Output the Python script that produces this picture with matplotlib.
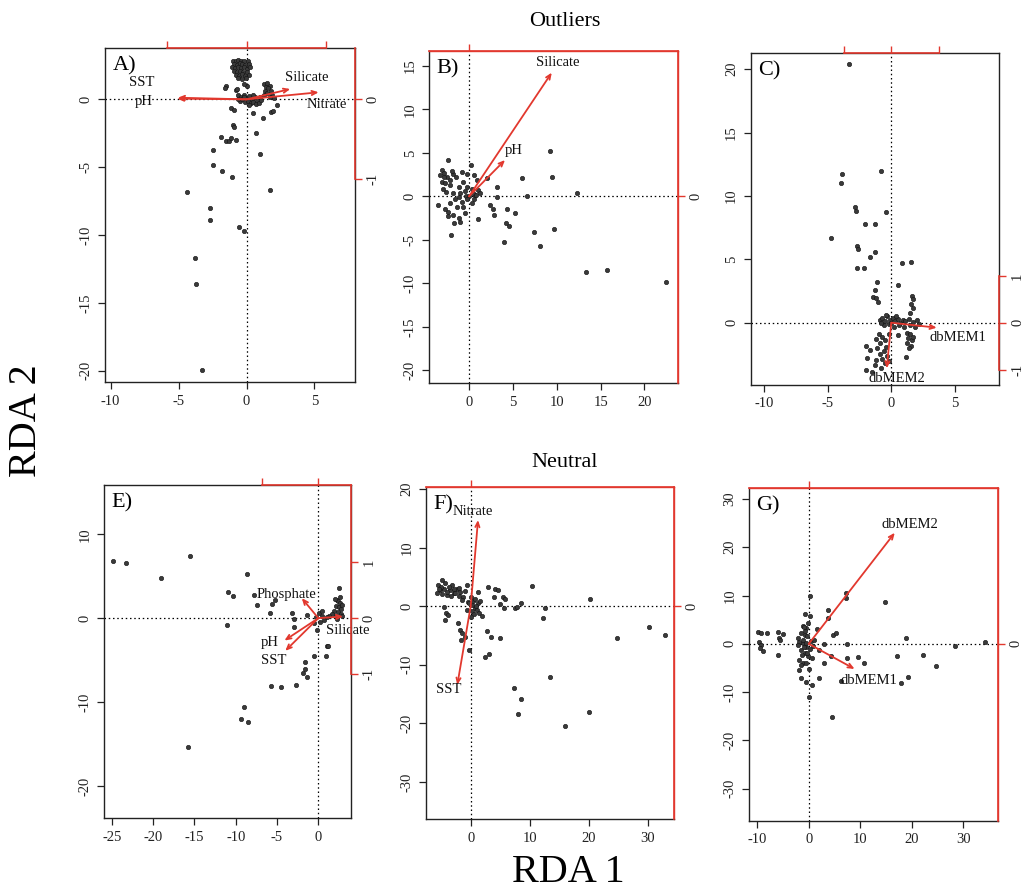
import matplotlib.pyplot as plt

plt.rcParams['font.family'] = ['Liberation Serif', 'DejaVu Serif']

RED = '#e2382e'

# ---- site scores (RDA1, RDA2) ----
a_sites = [
    (-1.0, 2.8), (-0.8, 2.85), (-0.6, 2.9), (-0.4, 2.8), (-0.2, 2.85), (0.1, 2.8), (-0.9, 2.6),
    (-0.7, 2.55), (-0.5, 2.65), (-0.3, 2.6), (-0.1, 2.5), (0.2, 2.6), (-1.05, 2.35), (-0.85, 2.3),
    (-0.6, 2.4), (-0.4, 2.3), (-0.2, 2.35), (0.0, 2.25), (0.25, 2.35), (-0.95, 2.1), (-0.7, 2.0),
    (-0.5, 2.1), (-0.25, 2.05), (0.05, 2.0), (-0.8, 1.8), (-0.55, 1.75), (-0.3, 1.85), (-0.1, 1.7),
    (0.15, 1.8), (-0.6, 1.55), (-0.35, 1.5), (-0.05, 1.55),
    (-1.5, 0.95), (-1.6, 0.85), (-0.8, 0.7), (-0.7, 0.78), (0.0, 0.95), (-0.2, 1.15),
    (1.3, 1.15), (1.5, 1.2), (1.7, 1.0), (1.4, 0.9), (1.6, 0.8), (1.35, 0.6), (1.8, 0.6),
    (1.5, 0.45), (1.9, 0.3), (1.3, 0.3), (1.7, 0.2), (2.0, 0.1),
    (-0.6, 0.3), (-0.4, 0.2), (-0.2, 0.35), (0.0, 0.1), (0.2, 0.25), (0.4, 0.0), (0.6, 0.2),
    (0.8, -0.1), (1.0, 0.15), (-0.5, -0.1), (-0.3, 0.0), (-0.1, -0.2), (0.1, -0.1), (0.3, -0.3),
    (0.5, -0.2), (0.7, -0.35), (-0.6, 0.05), (0.9, -0.25), (1.1, -0.05), (0.2, -0.4), (-0.2, 0.15),
    (0.45, 0.35),
    (-1.15, -0.66), (-0.9, -0.8), (0.44, -1.03), (1.24, -1.4), (1.78, -0.9), (1.95, -0.85),
    (2.27, -0.4), (-1.0, -1.9), (-0.9, -2.06), (0.73, -2.46), (-1.88, -2.75), (-1.5, -3.07),
    (-1.3, -3.07), (-1.15, -2.87), (-0.78, -3.0), (-2.46, -3.73), (0.98, -4.03), (-2.46, -4.84),
    (-1.83, -5.26), (-1.07, -5.7), (-4.39, -6.8), (1.73, -6.66), (-2.66, -8.03), (-2.71, -8.9),
    (-0.56, -9.39), (-0.2, -9.73), (-3.8, -11.72), (-3.7, -13.6), (-3.29, -19.95),
]

b_sites = [
    (-2.36, 4.18), (-3.1, 3.0), (-2.9, 2.7), (-2.55, 2.26), (-2.2, 1.9), (-3.1, 1.7), (-2.7, 1.5),
    (-1.8, 2.6), (-0.84, 2.8), (-0.27, 2.6), (0.2, 3.6), (0.57, 2.45), (0.87, 1.9), (-1.2, 1.1),
    (-0.65, 1.7), (-0.27, 1.1), (0.3, 0.9), (-1.8, 0.35), (-1.2, -0.04), (-0.4, 0.0),
    (-0.84, -0.6), (-2.2, -0.8), (-1.4, -1.2), (-2.36, -1.8), (-1.8, -2.15), (-1.2, -2.5),
    (-1.0, -2.9), (-0.46, -1.95), (-3.5, -1.0), (-2.05, -4.45), (1.06, -2.65), (1.06, 0.7),
    (0.68, 0.15), (1.25, 0.35),
    (-2.9, 2.2), (-3.3, 2.5), (-2.0, 2.9), (-1.5, 2.2), (-2.6, 0.5), (-3.0, 0.9), (-1.0, 0.4),
    (-0.5, 0.6), (0.0, 0.0), (0.4, 0.4), (0.6, -0.3), (-0.2, -0.3), (-1.6, -0.3), (-2.7, -1.4),
    (-2.4, -2.3), (-1.7, -3.1), (0.3, -0.8), (0.8, 0.1), (-0.7, -1.2), (-2.2, 1.3),
    (2.1, 2.07), (3.2, 1.1), (3.15, -0.04), (2.4, -1.0), (2.7, -1.4), (2.85, -2.15), (4.3, -1.4),
    (4.2, -3.1), (4.56, -3.4), (4.0, -5.3), (5.25, -1.96), (6.0, 2.07), (6.6, 0.0), (7.45, -4.07),
    (8.1, -5.7), (9.24, 5.26), (9.43, 2.26), (9.7, -3.8), (12.3, 0.35), (13.35, -8.75),
    (15.74, -8.48), (22.5, -9.9),
]

c_sites = [
    (-3.35, 20.4), (-3.87, 11.7), (-3.93, 11.05), (-0.79, 11.97), (-2.88, 9.1), (-2.75, 8.8),
    (-0.45, 8.76), (-2.1, 7.8), (-1.26, 7.8), (-4.7, 6.7), (-2.7, 6.05), (-2.6, 5.85),
    (-1.26, 5.55), (-1.7, 5.16), (-2.7, 4.34), (-2.12, 4.34), (0.86, 4.74), (1.57, 4.82),
    (-1.1, 3.18), (-1.3, 2.58), (-1.44, 2.05), (-1.18, 1.92), (-1.05, 1.66), (0.52, 2.97),
    (1.65, 2.1), (1.7, 1.84), (1.55, 1.5), (1.7, 1.13), (1.5, 0.74),
    (-0.9, 0.2), (-0.7, 0.4), (-0.5, 0.1), (-0.3, 0.5), (-0.1, 0.2), (0.1, 0.4), (0.3, 0.1),
    (0.5, 0.3), (0.7, 0.0), (0.9, 0.25), (1.1, 0.1), (1.4, 0.3), (1.7, 0.05), (2.0, 0.2),
    (2.2, -0.1), (-0.6, -0.2), (-0.2, -0.1), (0.2, -0.3), (0.6, -0.2), (1.0, -0.35), (1.5, -0.2),
    (1.9, -0.3), (-0.4, 0.6), (0.0, 0.0), (0.4, 0.55), (-0.8, -0.05),
    (-1.0, -0.9), (-1.2, -1.3), (-0.7, -1.1), (-0.9, -1.6), (-0.5, -1.4), (-1.1, -2.0),
    (-0.6, -2.2), (-0.9, -2.5), (-0.3, -2.6), (-0.7, -2.9), (-1.18, -2.95), (-1.3, -3.34),
    (-0.5, -3.2), (-0.8, -3.6), (-0.2, -3.0), (-1.96, -1.84), (-1.7, -2.16), (-1.88, -2.8),
    (-2.0, -3.74), (-1.5, -3.9), (-0.4, -1.9), (-0.2, -0.9),
    (1.2, -0.8), (1.5, -0.9), (1.35, -1.2), (1.6, -1.4), (1.25, -1.6), (1.55, -1.8), (1.4, -2.0),
    (1.7, -1.1), (1.18, -2.68), (0.52, -0.97),
]

e_sites = [
    (-24.8, 6.83), (-23.3, 6.59), (-15.5, 7.46), (-19.07, 4.76), (-8.6, 5.3), (-10.97, 3.1),
    (-10.28, 2.62), (-7.78, 2.7), (-7.46, 1.59), (-11.1, -0.79), (-5.65, 1.63), (-5.85, 0.6),
    (-5.24, 2.18), (-3.15, 0.67), (-2.94, -0.16), (-2.94, -1.07), (-1.41, 0.4), (-0.2, -1.47),
    (-0.48, -4.56), (-1.61, -5.28), (-1.61, -6.07), (-1.81, -6.55), (-1.41, -7.02), (1.0, -3.37),
    (1.2, -3.3), (0.93, -4.48), (-5.77, -8.13), (-4.56, -8.25), (-2.74, -8.0), (-8.95, -10.63),
    (-9.4, -12.06), (-8.5, -12.38), (-15.8, -15.4),
    (2.54, 3.57), (2.22, 2.18), (2.4, 2.0), (2.6, 1.8), (2.1, 1.5), (2.5, 1.3), (2.8, 1.1),
    (1.9, 0.9), (2.4, 0.7), (2.7, 0.5), (2.0, 0.3), (2.9, 0.2), (1.6, 0.5), (2.3, -0.1),
    (1.3, 0.2), (2.6, 2.5), (2.0, 2.3), (2.85, 1.6),
    (0.1, 0.6), (0.4, 0.3), (-0.3, 0.1), (0.7, -0.2), (0.2, -0.4), (-0.5, -0.6), (1.0, 0.1),
    (0.5, 0.8),
]

f_sites = [
    (-4.9, 4.4), (-5.5, 3.6), (-5.2, 2.7), (-5.76, 2.16), (-4.6, 3.0), (-3.2, 3.6), (-3.5, 2.7),
    (-2.9, 2.16), (-2.4, 3.0), (-1.8, 2.45), (-1.24, 1.6), (-0.68, 3.6), (-1.5, 1.0),
    (-4.07, 1.9), (-0.4, 0.74),
    (-4.4, 3.9), (-5.0, 3.2), (-4.0, 2.4), (-3.7, 3.3), (-2.9, 3.0), (-2.6, 2.2), (-2.0, 1.8),
    (-1.0, 2.6), (-1.9, 3.1), (-3.3, 1.8), (-4.8, 2.0), (-5.3, 3.0),
    (-4.6, -0.1), (-4.2, -1.25), (-4.35, -2.4), (-3.8, -1.5), (-2.1, -2.96), (-1.8, -4.0),
    (-1.5, -4.55), (-1.6, -5.8), (-0.96, -5.2), (-0.23, -7.5), (-0.68, -0.68),
    (0.1, 1.5), (0.4, 0.9), (0.8, 1.2), (1.2, 0.5), (0.3, 0.2), (0.7, -0.3), (1.1, -0.6),
    (0.2, -0.9), (0.6, -1.4), (1.4, -1.2), (0.0, -1.8), (1.5, 0.9), (-0.3, 0.5), (0.9, 0.0),
    (1.3, 2.45), (3.0, 3.2), (4.1, 2.85), (4.7, 2.7), (4.0, 1.6), (4.97, 0.28), (5.5, 1.6),
    (5.8, 1.3), (5.65, -0.28), (2.0, -1.65), (2.77, -4.27), (3.4, -5.24), (4.97, -5.4),
    (2.43, -8.65), (3.16, -8.2), (7.5, -0.28), (7.9, -0.1), (8.5, 0.46), (10.34, 3.4),
    (12.2, -2.1), (12.66, -0.4), (13.45, -12.07), (7.34, -13.9), (8.6, -15.9), (8.1, -18.4),
    (15.9, -20.4), (20.0, -18.1), (20.3, 1.14), (24.75, -5.5), (30.2, -3.5), (32.9, -4.95),
]

g_sites = [
    (-9.8, 2.55), (-9.2, 2.2), (-9.6, 0.48), (-9.36, -0.2), (-8.97, -1.58), (-9.5, -0.9),
    (-8.1, 2.34), (-5.96, 2.55), (-5.77, 1.17), (-5.5, 0.83), (-5.1, 2.0), (-5.96, -2.4),
    (0.26, 10.0), (-0.7, 6.2), (0.3, 5.8), (-0.2, 4.27), (-1.15, 3.6), (-0.5, 3.2), (-1.5, 2.2),
    (-0.8, 1.9), (-2.1, 1.17), (-1.8, 0.48), (-1.1, 0.1), (-0.5, -0.6), (-1.5, -1.24),
    (-0.8, -1.9), (-0.2, -2.6), (-1.9, -3.3), (-1.2, -4.0), (-1.8, -5.4), (-1.5, -7.1),
    (-0.5, -7.8), (0.58, -8.6), (0.13, -10.9),
    (-0.8, 2.7), (-0.3, 1.6), (-1.2, 0.9), (-0.5, 0.2), (0.4, 0.5), (-1.0, -0.6), (-0.3, -1.8),
    (0.2, -1.0), (-1.3, -2.3), (-0.6, -3.9), (0.6, -3.0), (-1.6, -4.3), (1.0, 0.9), (0.8, -0.4),
    (-2.0, -0.2), (-0.9, 3.4), (0.0, -5.2),
    (3.65, 7.03), (3.65, 5.3), (4.74, 1.86), (5.25, 2.2), (3.0, 0.0), (1.54, 3.03), (2.05, -1.24),
    (3.0, -4.0), (1.92, -7.1), (4.3, -2.6), (7.18, 9.45), (7.3, 10.6), (7.5, 0.0), (7.5, -2.83),
    (6.2, -7.6), (9.55, -2.76), (10.7, -4.0), (4.5, -15.2), (14.87, 8.6), (17.1, -2.6),
    (18.9, 1.3), (17.9, -8.1), (19.2, -6.9), (22.24, -2.27), (24.7, -4.55), (28.3, -0.4),
    (34.3, 0.28),
]

# ---- biplot arrows: variable name, tip (in main-axis units) ----
a_vars = ['SST', 'pH', 'Silicate', 'Nitrate']
a_tips = [(-5.05, 0.12), (-5.1, 0.05), (3.22, 0.76), (5.31, 0.52)]
b_vars = ['Silicate', 'pH']
b_tips = [(9.43, 14.23), (4.1, 4.18)]
c_vars = ['dbMEM1', 'dbMEM2']
c_tips = [(3.57, -0.39), (-0.36, -3.6)]
e_vars = ['Phosphate', 'pH', 'SST', 'Silicate']
e_tips = [(-2.0, 2.38), (-4.1, -2.67), (-4.0, -3.9), (3.0, 0.2)]
f_vars = ['Nitrate', 'SST']
f_tips = [(1.24, 14.7), (-2.27, -13.45)]
g_vars = ['dbMEM2', 'dbMEM1']
g_tips = [(16.7, 23.0), (8.9, -5.2)]

# ---- axis ticks ----
a_xticks, a_yticks = [-10, -5, 0, 5], [-20, -15, -10, -5, 0]
b_xticks, b_yticks = [0, 5, 10, 15, 20], [-20, -15, -10, -5, 0, 5, 10, 15]
c_xticks, c_yticks = [-10, -5, 0, 5], [0, 5, 10, 15, 20]
e_xticks, e_yticks = [-25, -20, -15, -10, -5, 0], [-20, -10, 0, 10]
f_xticks, f_yticks = [0, 10, 20, 30], [-30, -20, -10, 0, 10, 20]
g_xticks, g_yticks = [-10, 0, 10, 20, 30], [-30, -20, -10, 0, 10, 20, 30]

panels = [
    dict(tag='A)', sites=a_sites, vars=a_vars, tips=a_tips, xt=a_xticks, yt=a_yticks,
         pos=[0.1027, 0.5722, 0.2446, 0.374], xlim=(-10.42, 7.98), ylim=(-20.83, 3.78),
         kx=5.85, ky=5.85, rxt=[-1, 0, 1], ryt=[-1, 0], rxb=(-1, 1), ryb=(-1, None),
         offs=[(-26, 11), (-24, -2), (12, 8), (6, -9)]),
    dict(tag='B)', sites=b_sites, vars=b_vars, tips=b_tips, xt=b_xticks, yt=b_yticks,
         pos=[0.4201, 0.5708, 0.2431, 0.3725], xlim=(-4.53, 23.8), ylim=(-21.5, 16.76),
         kx=30, ky=30, rxt=[0], ryt=[0], rxb=None, ryb=None,
         offs=[(4, 7), (6, 7)]),
    dict(tag='C)', sites=c_sites, vars=c_vars, tips=c_tips, xt=c_xticks, yt=c_yticks,
         pos=[0.7345, 0.5689, 0.2432, 0.3721], xlim=(-11.05, 8.48), ylim=(-4.91, 21.3),
         kx=3.72, ky=3.7, rxt=[-1, 0, 1], ryt=[-1, 0, 1], rxb=(-1, 1), ryb=(-1, 1),
         offs=[(15, -7), (7, -7.5)]),
    dict(tag='E)', sites=e_sites, vars=e_vars, tips=e_tips, xt=e_xticks, yt=e_yticks,
         pos=[0.1018, 0.0837, 0.2417, 0.3732], xlim=(-25.93, 3.96), ylim=(-23.85, 15.87),
         kx=6.86, ky=6.69, rxt=[-1, 0], ryt=[-1, 0, 1], rxb=(-1, None), ryb=(-1, None),
         offs=[(-11, 2.5), (-10.5, -1.5), (-8.5, -7), (3, -10)]),
    dict(tag='F)', sites=f_sites, vars=f_vars, tips=f_tips, xt=f_xticks, yt=f_yticks,
         pos=[0.4168, 0.0825, 0.2427, 0.3725], xlim=(-7.58, 34.46), ylim=(-36.4, 20.39),
         kx=60, ky=60, rxt=[0], ryt=[0], rxb=None, ryb=None,
         offs=[(-4, 6), (-6.5, -3)]),
    dict(tag='G)', sites=g_sites, vars=g_vars, tips=g_tips, xt=g_xticks, yt=g_yticks,
         pos=[0.7329, 0.0810, 0.2434, 0.3722], xlim=(-11.6, 36.7), ylim=(-36.6, 32.2),
         kx=60, ky=60, rxt=[0], ryt=[0], rxb=None, ryb=None,
         offs=[(11, 6), (10, -8)]),
]

fig = plt.figure(figsize=(10.22, 8.93), dpi=100)

for p in panels:
    ax = fig.add_axes(p['pos'])
    ax.set_xlim(*p['xlim'])
    ax.set_ylim(*p['ylim'])
    for s in ax.spines.values():
        s.set_linewidth(1.0)
        s.set_color('#222222')
    # where the red arrow scale spans the whole side, the frame itself is red
    if p['rxb'] is None:
        ax.spines['top'].set_color(RED)
    if p['ryb'] is None:
        ax.spines['right'].set_color(RED)

    ax.axhline(0, color='k', lw=0.9, ls=(0, (1.2, 2.2)), zorder=1)
    ax.axvline(0, color='k', lw=0.9, ls=(0, (1.2, 2.2)), zorder=1)

    xs = [q[0] for q in p['sites']]
    ys = [q[1] for q in p['sites']]
    ax.scatter(xs, ys, s=10, c='#3a3a3a', edgecolors='#111111', linewidths=0.4, zorder=3)

    for name, tip, off in zip(p['vars'], p['tips'], p['offs']):
        ax.annotate('', xy=tip, xytext=(0, 0),
                    arrowprops=dict(arrowstyle='->,head_length=0.35,head_width=0.15',
                                    color=RED, lw=1.3, shrinkA=0, shrinkB=0), zorder=4)
        ax.annotate(name, xy=tip, xytext=off, textcoords='offset points',
                    ha='center', va='center', fontsize=10.5, color='#111111', zorder=5)

    ax.text(0.03, 0.975, p['tag'], transform=ax.transAxes, ha='left', va='top', fontsize=16)

    ax.set_xticks(p['xt'], labels=[str(t) for t in p['xt']])
    ax.set_yticks(p['yt'], labels=[str(t) for t in p['yt']], rotation=90, va='center')
    ax.tick_params(direction='out', length=5, width=0.9, labelsize=10.5, pad=4, colors='#222222')

    # red scale for the biplot arrows
    kx, ky = p['kx'], p['ky']
    sx = ax.secondary_xaxis('top', functions=(lambda v, k=kx: v / k, lambda v, k=kx: v * k))
    sx.set_zorder(5)
    sx.set_xticks(p['rxt'], labels=[''] * len(p['rxt']))
    sx.tick_params(axis='x', color=RED, length=5, width=1.0)
    sx.spines['bottom'].set_visible(False)
    sx.spines['top'].set_color(RED)
    sx.spines['top'].set_linewidth(1.2)
    if p['rxb'] is not None:
        hi = p['rxb'][1] if p['rxb'][1] is not None else p['xlim'][1] / kx
        sx.spines['top'].set_bounds(p['rxb'][0], hi)

    sy = ax.secondary_yaxis('right', functions=(lambda v, k=ky: v / k, lambda v, k=ky: v * k))
    sy.set_zorder(5)
    sy.set_yticks(p['ryt'], labels=[str(t) for t in p['ryt']], rotation=90, va='center')
    sy.tick_params(axis='y', color=RED, length=5, width=1.0, labelsize=10.5, labelcolor='#222222')
    sy.spines['left'].set_visible(False)
    sy.spines['right'].set_color(RED)
    sy.spines['right'].set_linewidth(1.2)
    if p['ryb'] is not None:
        hi = p['ryb'][1] if p['ryb'][1] is not None else p['ylim'][1] / ky
        sy.spines['right'].set_bounds(p['ryb'][0], hi)

fig.text(565 / 1022, 1 - 22 / 893, 'Outliers', ha='center', va='center', fontsize=16)
fig.text(565 / 1022, 1 - 463 / 893, 'Neutral', ha='center', va='center', fontsize=16)
fig.text(27 / 1022, 1 - 421 / 893, 'RDA 2', ha='center', va='center', rotation=90, fontsize=29)
fig.text(568 / 1022, 1 - 872 / 893, 'RDA 1', ha='center', va='center', fontsize=29)

fig.savefig('out.png', dpi=100)
